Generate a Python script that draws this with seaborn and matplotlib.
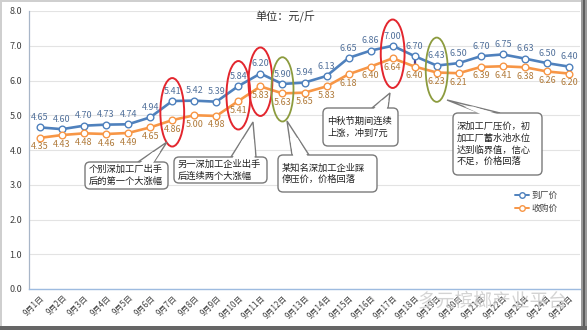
import numpy as np
import pandas as pd
import matplotlib
matplotlib.use("Agg")
import matplotlib.pyplot as plt
import matplotlib.transforms as mtransforms
from matplotlib.patches import Ellipse, FancyBboxPatch, Polygon, Rectangle
import seaborn as sns

# ---------------- data ----------------
dates = [f"9月{d}日" for d in range(1, 26)]
factory_price = [4.65, 4.60, 4.70, 4.73, 4.74, 4.94, 5.41, 5.42, 5.39, 5.84, 6.20, 5.90, 5.94,
                 6.13, 6.65, 6.86, 7.00, 6.70, 6.43, 6.50, 6.70, 6.75, 6.63, 6.50, 6.40]
purchase_price = [4.35, 4.43, 4.48, 4.46, 4.49, 4.65, 4.86, 5.00, 4.98, 5.41, 5.83, 5.63, 5.65,
                  5.83, 6.18, 6.40, 6.64, 6.40, 6.23, 6.21, 6.39, 6.41, 6.38, 6.26, 6.20]
series_names = ["到厂价", "收购价"]
y_ticks = [0, 1, 2, 3, 4, 5, 6, 7, 8]
title_text = "单位：元/斤"
red_marks = [6, 9, 10, 16]
green_marks = [11, 18]
hl_marks = [17, 18]
callouts = [
    "个别深加工厂出手\n后的第一个大涨幅",
    "另一深加工企业出手\n后连续两个大涨幅",
    "中秋节期间连续\n上涨，冲到7元",
    "某知名深加工企业踩\n停压价，价格回落",
    "深加工厂压价，初\n加工厂蓄水池水位\n达到临界值，信心\n不足，价格回落",
]
watermark = "多元槟榔产业平台"

# ---------------- style ----------------
sns.set_theme(style="white")
plt.rcParams["font.family"] = ["Noto Sans CJK SC", "DejaVu Sans"]

W, H = 587, 330
fig = plt.figure(figsize=(W / 100, H / 100), dpi=100)
fig.patch.set_facecolor("white")
ax = fig.add_axes([29 / W, 1 - 289 / H, (580 - 29) / W, (289 - 11) / H])
ax.set_facecolor("white")

blue = "#4f81bd"
orange = "#f79646"
blue_txt = "#52719b"
orange_txt = "#b07a3a"

idx = np.arange(len(dates))
df = pd.DataFrame({"idx": idx, series_names[0]: factory_price, series_names[1]: purchase_price})

# high-low lines
ax.vlines([idx[i] for i in hl_marks],
          [purchase_price[i] for i in hl_marks],
          [factory_price[i] - 0.04 for i in hl_marks],
          color="#4b3c8c", lw=1.6, zorder=2)

for name, col in zip(series_names, [blue, orange]):
    sns.lineplot(data=df, x="idx", y=name, ax=ax, color=col, lw=1.9, marker="o",
                 markersize=4.8, markerfacecolor="white", markeredgecolor=col,
                 markeredgewidth=1.0, label=name, zorder=3)

# data labels
for i in idx:
    ax.annotate(f"{factory_price[i]:.2f}", (i, factory_price[i]), xytext=(0, 7),
                textcoords="offset points", ha="center", va="center",
                fontsize=6.5, color=blue_txt, zorder=4)
    ax.annotate(f"{purchase_price[i]:.2f}", (i, purchase_price[i]), xytext=(0, -6.5),
                textcoords="offset points", ha="center", va="center",
                fontsize=6.5, color=orange_txt, zorder=4)

# ellipses
for i in red_marks:
    ymid = (factory_price[i] + purchase_price[i]) / 2 - 0.05
    ax.add_patch(Ellipse((i, ymid), 1.08, 1.97, fill=False, ec="#e3262e", lw=1.4, zorder=5))
for i in green_marks:
    ymid = (factory_price[i] + purchase_price[i]) / 2 - 0.02
    ax.add_patch(Ellipse((i, ymid), 1.0, 1.85, fill=False, ec="#8c9b3e", lw=1.3, zorder=5))

# axes
ax.set_xlim(-0.5, len(dates) - 0.5)
ax.set_ylim(0, 8)
ax.set_yticks(y_ticks)
ax.set_yticklabels([f"{v:.1f}" for v in y_ticks], fontsize=6.5, color="#404040")
ax.set_xticks(idx)
ax.set_xticklabels(dates, rotation=45, ha="right", va="top", rotation_mode="anchor",
                   fontsize=5.8, color="#404040")
ax.set_xticks(np.arange(-0.5, len(dates), 1), minor=True)
ax.tick_params(axis="x", which="major", length=0, pad=3)
ax.tick_params(axis="x", which="minor", length=3, color="#9dbbe0", width=0.8, direction="out")
ax.tick_params(axis="y", which="major", length=3, color="#a0a0a0", width=0.8, direction="out", pad=2)
ax.set_xlabel("")
ax.set_ylabel("")
ax.yaxis.grid(True, color="#e3e3e3", lw=0.8)
ax.set_axisbelow(True)
for s in ["top", "right"]:
    ax.spines[s].set_visible(False)
ax.spines["left"].set_color("#a8b6c8")
ax.spines["left"].set_linewidth(0.9)
ax.spines["bottom"].set_color("#9dbbe0")
ax.spines["bottom"].set_linewidth(1.0)

# legend
leg = ax.legend(loc="upper left", bbox_to_anchor=(0.875, 0.365), frameon=False,
                fontsize=6.3, handlelength=1.6, handletextpad=0.3, labelspacing=0.5,
                borderaxespad=0)
for t in leg.get_texts():
    t.set_color("#404040")
for h in leg.legend_handles:
    h.set_linewidth(1.4)
    h.set_markersize(4)

# title
fig.text(255 / W, 1 - 17 / H, title_text, fontsize=8, color="#333333", ha="left", va="center")

# callouts (pixel coordinates from top-left)
ptrans = mtransforms.Affine2D().scale(1 / W, -1 / H).translate(0, 1) + fig.transFigure
boxes = [
    # (x0, y0, x1, y1, base_x1, base_x2, apex_x, apex_y)
    (85, 162, 168, 189, 138, 154, 167, 142),
    (174, 157, 267, 183, 231, 256, 253, 122),
    (323, 108, 398, 146, 372, 388, 390, 93),
    (278, 155, 377, 192, 292, 309, 287, 121),
    (453, 113, 542, 175, 480, 500, 447, 100),
]
ec = "#7a7a7a"
for (x0, y0, x1, y1, b1, b2, axp, ayp), txt in zip(boxes, callouts):
    wedge = Polygon([(b1, y0), (axp, ayp), (b2, y0)], closed=True, fc="white", ec=ec,
                    lw=1.0, transform=ptrans, zorder=6)
    fig.add_artist(wedge)
    box = FancyBboxPatch((x0, y0), x1 - x0, y1 - y0, boxstyle="round,pad=0,rounding_size=5",
                         fc="white", ec=ec, lw=1.0, transform=ptrans, zorder=7)
    fig.add_artist(box)
    inner = Polygon([(b1 + 1.3, y0 + 1.5), (b1 + 0.5 * (axp - b1) + 0.5, y0 + 0.5 * (ayp - y0)),
                     (b2 + 0.5 * (axp - b2) - 0.5, y0 + 0.5 * (ayp - y0)), (b2 - 1.3, y0 + 1.5)],
                    closed=True, fc="white", ec="none", transform=ptrans, zorder=8)
    fig.add_artist(inner)
    fig.text((x0 + 4) / W, 1 - ((y0 + y1) / 2) / H, txt, fontsize=6.7, color="#222222",
             ha="left", va="center", linespacing=1.35, zorder=9)

# watermark
fig.text(418 / W, 1 - 302 / H, watermark, fontsize=13.5, color="#c9c9c9", alpha=0.8,
         ha="left", va="center", zorder=10)

# frame / shadow
fig.add_artist(Rectangle((0, 0), W, 1.5, transform=ptrans, fc="#cfcfcf", ec="none", zorder=11))
fig.add_artist(Rectangle((0, 0), 1.5, H, transform=ptrans, fc="#cfcfcf", ec="none", zorder=11))
fig.add_artist(Rectangle((581, 0), 6, H, transform=ptrans, fc="#9a9a9a", ec="none", zorder=11))
fig.add_artist(Rectangle((582.5, 0), 2, H, transform=ptrans, fc="#5e5e5e", ec="none", zorder=12))
fig.add_artist(Rectangle((0, 326), W, 4, transform=ptrans, fc="#666666", ec="none", zorder=12))

fig.savefig("out.png", dpi=100)
